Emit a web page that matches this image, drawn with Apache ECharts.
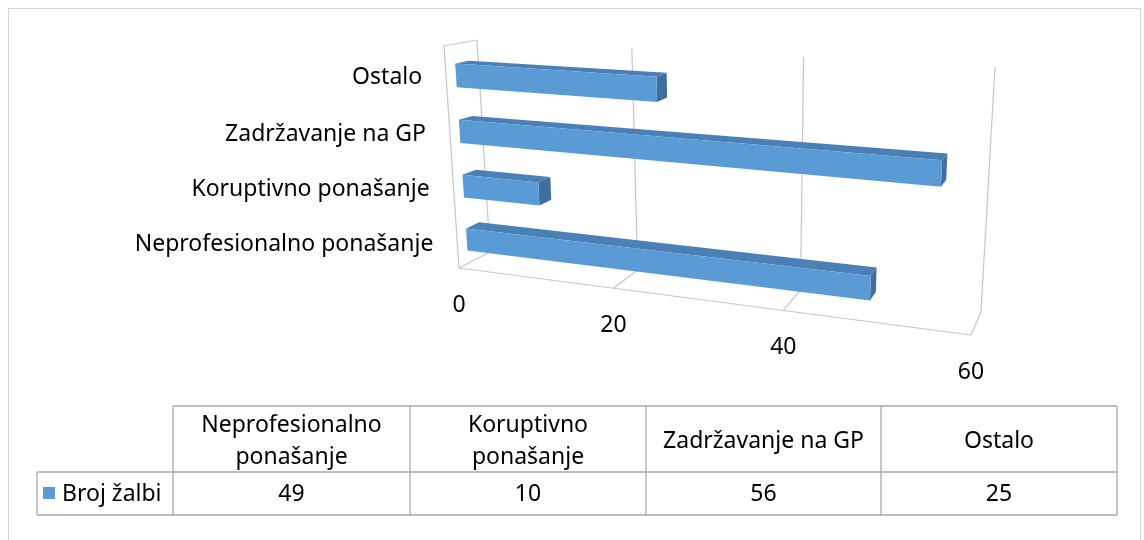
<!DOCTYPE html>
<html>
<head>
<meta charset="utf-8">
<script src="https://cdn.jsdelivr.net/npm/echarts@6/dist/echarts.min.js"></script>
<style>
html, body { margin: 0; padding: 0; background: #fff; }
#chart { width: 1144px; height: 540px; }
</style>
</head>
<body>
<div id="chart"></div>
<script>
// data
var categories = ['Neprofesionalno ponašanje', 'Koruptivno ponašanje', 'Zadržavanje na GP', 'Ostalo'];
var values = [49, 10, 56, 25];
var seriesName = 'Broj žalbi';
var valueTicks = [0, 20, 40, 60];
var headerLines = [['Neprofesionalno', 'ponašanje'], ['Koruptivno', 'ponašanje'], ['Zadržavanje na GP'], ['Ostalo']];

var FONT = '"Noto Sans", sans-serif';
var FS = 23;
var gridColor = '#c6c6c6';

/* perspective box: back wall and front plane corners (TL, TR, BR, BL) */
var backQuad = [[477, 40], [995, 67], [981, 312], [490, 252]];
var frontQuad = [[444, 46], [983, 80], [971, 335], [459, 268]];
var D1 = 0.30, D2 = 0.72;   // bar front / back depth
var V_SHIFT = 0.012;

function homography(q) {
    var x0 = q[0][0], y0 = q[0][1], x1 = q[1][0], y1 = q[1][1];
    var x2 = q[2][0], y2 = q[2][1], x3 = q[3][0], y3 = q[3][1];
    var dx1 = x1 - x2, dx2 = x3 - x2, dx3 = x0 - x1 + x2 - x3;
    var dy1 = y1 - y2, dy2 = y3 - y2, dy3 = y0 - y1 + y2 - y3;
    var den = dx1 * dy2 - dx2 * dy1;
    var g = (dx3 * dy2 - dx2 * dy3) / den;
    var h = (dx1 * dy3 - dx3 * dy1) / den;
    var a = x1 - x0 + g * x1, b = x3 - x0 + h * x3, c = x0;
    var d = y1 - y0 + g * y1, e = y3 - y0 + h * y3, f = y0;
    return function (u, v) {
        var w = g * u + h * v + 1;
        return [(a * u + b * v + c) / w, (d * u + e * v + f) / w];
    };
}
var Hb = homography(backQuad);
var Hf = homography(frontQuad);

function proj(t, v, dep) {
    var p = Hf(t, v), q = Hb(t, v);
    return [p[0] + (q[0] - p[0]) * dep, p[1] + (q[1] - p[1]) * dep];
}

function seg(a, b) {
    return {
        type: 'line',
        shape: { x1: a[0], y1: a[1], x2: b[0], y2: b[1] },
        style: { stroke: gridColor, lineWidth: 1.2 }
    };
}

function renderGrid(params, api) {
    var cs = params.coordSys;
    var p = api.coord([api.value(0), 0]);
    var t = (p[0] - cs.x) / cs.width;
    var kids = [];
    kids.push(seg(proj(t, 0, 1), proj(t, 1, 1)));   // back wall line
    kids.push(seg(proj(t, 1, 1), proj(t, 1, 0)));   // floor line
    if (params.dataIndex === 0) {
        kids.push(seg(proj(0, 0, 0), proj(0, 1, 0)));
        kids.push(seg(proj(0, 0, 0), proj(0, 0, 1)));
        kids.push(seg(proj(0, 1, 0), proj(1, 1, 0)));
    }
    var lp = proj(t, 1, 0);
    kids.push({
        type: 'text',
        x: lp[0], y: lp[1] + 37,
        style: {
            text: String(api.value(0)), fill: '#000', font: FS + 'px ' + FONT,
            align: 'center', verticalAlign: 'middle'
        }
    });
    return { type: 'group', children: kids };
}

function poly(pts, color) {
    return { type: 'polygon', shape: { points: pts }, style: { fill: color } };
}

function renderBars(params, api) {
    var cs = params.coordSys;
    var val = api.value(0), idx = api.value(1);
    var p0 = api.coord([0, idx]), p1 = api.coord([val, idx]);
    var t0 = (p0[0] - cs.x) / cs.width, t1 = (p1[0] - cs.x) / cs.width;
    var vc = (p0[1] - cs.y) / cs.height + V_SHIFT;
    var hv = api.size([0, 1])[1] * 0.42 / 2 / cs.height;
    var vt = vc - hv, vb = vc + hv;
    var lp = proj(0, vc, 0);
    return {
        type: 'group',
        children: [
            poly([proj(t0, vt, D1), proj(t1, vt, D1), proj(t1, vt, D2), proj(t0, vt, D2)], '#4a80b6'),
            poly([proj(t1, vt, D1), proj(t1, vt, D2), proj(t1, vb, D2), proj(t1, vb, D1)], '#3f6f9d'),
            poly([proj(t0, vt, D1), proj(t1, vt, D1), proj(t1, vb, D1), proj(t0, vb, D1)], '#5b9bd5'),
            {
                type: 'text',
                x: lp[0] - 24, y: lp[1],
                style: {
                    text: categories[idx], fill: '#000', font: FS + 'px ' + FONT,
                    align: 'right', verticalAlign: 'middle'
                }
            }
        ]
    };
}

/* data table below the chart */
var colX = [173, 410, 646, 881, 1117];
var legendX = 37;
var rowY = [406, 472, 515];
var tableColor = '#a9a9a9';

function tline(x1, y1, x2, y2) {
    return { type: 'line', shape: { x1: x1, y1: y1, x2: x2, y2: y2 }, style: { stroke: tableColor, lineWidth: 1.3 } };
}

var graphics = [];
graphics.push({ type: 'rect', shape: { x: 8.5, y: 8.5, width: 1132, height: 540 }, style: { fill: 'none', stroke: '#d4d4d4', lineWidth: 1 } });
graphics.push(tline(colX[0], rowY[0], colX[4], rowY[0]));
graphics.push(tline(legendX, rowY[1], colX[4], rowY[1]));
graphics.push(tline(legendX, rowY[2], colX[4], rowY[2]));
graphics.push(tline(legendX, rowY[1], legendX, rowY[2]));
for (var i = 0; i < colX.length; i++) {
    graphics.push(tline(colX[i], rowY[0], colX[i], rowY[2]));
}
for (var i = 0; i < categories.length; i++) {
    var cx = (colX[i] + colX[i + 1]) / 2;
    graphics.push({
        type: 'text', x: cx, y: (rowY[0] + rowY[1]) / 2 + 2,
        style: {
            text: headerLines[i].join('\n'), fill: '#000', font: FS + 'px ' + FONT,
            lineHeight: 32, align: 'center', verticalAlign: 'middle'
        }
    });
    graphics.push({
        type: 'text', x: cx, y: (rowY[1] + rowY[2]) / 2 + 1,
        style: {
            text: String(values[i]), fill: '#000', font: FS + 'px ' + FONT,
            align: 'center', verticalAlign: 'middle'
        }
    });
}
graphics.push({ type: 'rect', shape: { x: 43, y: 487, width: 12, height: 12 }, style: { fill: '#5b9bd5' } });
graphics.push({
    type: 'text', x: 62, y: (rowY[1] + rowY[2]) / 2 + 1,
    style: { text: seriesName, fill: '#000', font: FS + 'px ' + FONT, align: 'left', verticalAlign: 'middle' }
});

var chart = echarts.init(document.getElementById('chart'), null, { renderer: 'canvas' });
var option = {
    animation: false,
    grid: { left: 477, top: 40, width: 518, height: 212 },
    xAxis: { type: 'value', min: 0, max: 60, interval: 20, show: false },
    yAxis: { type: 'category', data: categories, show: false },
    graphic: graphics,
    series: [
        {
            type: 'custom',
            name: 'grid',
            coordinateSystem: 'cartesian2d',
            renderItem: renderGrid,
            data: valueTicks.map(function (v) { return [v, 0]; }),
            clip: false,
            silent: true,
            z: 1
        },
        {
            type: 'custom',
            name: seriesName,
            coordinateSystem: 'cartesian2d',
            renderItem: renderBars,
            data: values.map(function (v, i) { return [v, i]; }),
            clip: false,
            z: 2
        }
    ]
};
chart.setOption(option);
</script>
</body>
</html>
